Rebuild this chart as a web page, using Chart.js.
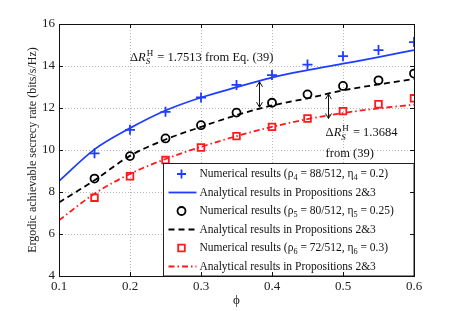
<!DOCTYPE html>
<html>
<head>
<meta charset="utf-8">
<script src="https://cdn.jsdelivr.net/npm/chart.js@4/dist/chart.umd.min.js"></script>
<style>
  html, body { margin: 0; padding: 0; background: #fff; }
</style>
</head>
<body>
<canvas id="myChart" width="457" height="311"></canvas>
<script>
// phi values
let phiNum = [0.15, 0.2, 0.25, 0.3, 0.35, 0.4, 0.45, 0.5, 0.55, 0.6];
let phiAna = [0.1, 0.15, 0.2, 0.25, 0.3, 0.35, 0.4, 0.45, 0.5, 0.55, 0.6];

// rates (bits/s/Hz)
let num4 = [9.84, 10.96, 11.82, 12.5, 13.1, 13.57, 14.07, 14.47, 14.76, 15.14];
let ana4 = [8.52, 10.03, 11.04, 11.88, 12.5, 12.99, 13.45, 13.8, 14.11, 14.42, 14.76];
let num5 = [8.64, 9.71, 10.55, 11.18, 11.78, 12.25, 12.65, 13.05, 13.32, 13.64];
let ana5 = [7.5, 8.56, 9.72, 10.5, 11.1, 11.66, 12.12, 12.46, 12.84, 13.12, 13.38];
let num6 = [7.73, 8.75, 9.52, 10.12, 10.66, 11.1, 11.5, 11.85, 12.18, 12.46];
let ana6 = [6.65, 7.92, 8.86, 9.57, 10.15, 10.66, 11.1, 11.47, 11.76, 11.98, 12.16];

let xTicks = [0.1, 0.2, 0.3, 0.4, 0.5, 0.6];
let yTicks = [4, 6, 8, 10, 12, 14, 16];

// legend text pieces, [text, isSubscript]
let legendLabels = [
  [["Numerical results (\u03c1", 0], ["4", 1], [" = 88/512, \u03b7", 0], ["4", 1], [" = 0.2)", 0]],
  [["Analytical results in Propositions 2&3", 0]],
  [["Numerical results (\u03c1", 0], ["5", 1], [" = 80/512, \u03b7", 0], ["5", 1], [" = 0.25)", 0]],
  [["Analytical results in Propositions 2&3", 0]],
  [["Numerical results (\u03c1", 0], ["6", 1], [" = 72/512, \u03b7", 0], ["6", 1], [" = 0.3)", 0]],
  [["Analytical results in Propositions 2&3", 0]]
];

const BLUE = "#1f3dff";
const RED = "#ff1a1a";
const FONT = "'Liberation Serif', 'Times New Roman', serif";

let pts = (xs, ys) => xs.map((v, i) => ({ x: v, y: ys[i] }));

let numSet = (label, data, color, style, r) => ({
  label: label,
  data: pts(phiNum, data),
  showLine: false,
  borderColor: color,
  backgroundColor: "transparent",
  pointStyle: style,
  pointRadius: r,
  pointBorderWidth: 1.8,
  pointHoverRadius: r
});

let anaSet = (label, data, color, dash) => ({
  label: label,
  data: pts(phiAna, data),
  showLine: true,
  borderColor: color,
  borderWidth: 1.8,
  borderDash: dash,
  pointRadius: 0,
  cubicInterpolationMode: "monotone",
  fill: false
});

function richText(ctx, parts, x, y, size) {
  parts.forEach(([t, sub]) => {
    ctx.font = (sub ? size * 0.72 : size) + "px " + FONT;
    ctx.fillText(t, x, sub ? y + size * 0.3 : y);
    x += ctx.measureText(t).width;
  });
}

function deltaText(ctx, x, y, rest, size) {
  ctx.font = size + "px " + FONT;
  ctx.fillText("\u0394", x, y);
  x += ctx.measureText("\u0394").width;
  ctx.font = "italic " + size + "px " + FONT;
  ctx.fillText("R", x, y);
  x += ctx.measureText("R").width + 1;
  let s = size * 0.72;
  ctx.font = s + "px " + FONT;
  ctx.fillText("H", x, y - size * 0.38);
  let w1 = ctx.measureText("H").width;
  ctx.font = "italic " + s + "px " + FONT;
  ctx.fillText("S", x - 1, y + size * 0.32);
  let w2 = ctx.measureText("S").width;
  x += Math.max(w1, w2) + 1;
  ctx.font = size + "px " + FONT;
  ctx.fillText(rest, x, y);
}

function arrow(ctx, px, y1, y2) {
  ctx.beginPath();
  ctx.moveTo(px, y1); ctx.lineTo(px, y2);
  ctx.moveTo(px - 3, y1 + 5); ctx.lineTo(px, y1); ctx.lineTo(px + 3, y1 + 5);
  ctx.moveTo(px - 3, y2 - 5); ctx.lineTo(px, y2); ctx.lineTo(px + 3, y2 - 5);
  ctx.stroke();
}

const paperLook = {
  id: "paperLook",
  beforeDatasetsDraw(chart) {
    const { ctx, chartArea: a, scales: { x, y } } = chart;
    ctx.save();
    ctx.strokeStyle = "#b8b8b8";
    ctx.lineWidth = 1;
    ctx.setLineDash([1, 2]);
    ctx.beginPath();
    xTicks.forEach(v => {
      let px = Math.round(x.getPixelForValue(v)) + 0.5;
      ctx.moveTo(px, a.top); ctx.lineTo(px, a.bottom);
    });
    yTicks.forEach(v => {
      let py = Math.round(y.getPixelForValue(v)) + 0.5;
      ctx.moveTo(a.left, py); ctx.lineTo(a.right, py);
    });
    ctx.stroke();
    ctx.restore();
  },
  afterDatasetsDraw(chart) {
    const { ctx, chartArea: a, scales: { x, y } } = chart;
    ctx.save();
    ctx.fillStyle = "#111";
    ctx.strokeStyle = "#111";
    ctx.lineWidth = 1;

    // annotations
    ctx.textBaseline = "middle";
    deltaText(ctx, x.getPixelForValue(0.2), y.getPixelForValue(14.38), " = 1.7513 from Eq. (39)", 12.5);
    deltaText(ctx, x.getPixelForValue(0.4755), y.getPixelForValue(10.8), " = 1.3684", 12.5);
    ctx.font = "12.5px " + FONT;
    ctx.fillText("from (39)", x.getPixelForValue(0.4755), y.getPixelForValue(9.8));
    arrow(ctx, Math.round(x.getPixelForValue(0.382)) + 0.5, y.getPixelForValue(13.25), y.getPixelForValue(12.04));
    arrow(ctx, Math.round(x.getPixelForValue(0.479)) + 0.5, y.getPixelForValue(12.66), y.getPixelForValue(11.5));

    // legend box
    let lx = 163.5, ly = 163.5, lw = a.right - lx, lh = a.bottom - ly;
    ctx.fillStyle = "#fff";
    ctx.fillRect(lx, ly, lw, lh);
    ctx.strokeStyle = "#222";
    ctx.strokeRect(lx, ly, lw, lh);
    chart.data.datasets.forEach((ds, i) => {
      let cy = ly + 10.5 + i * 18.5;
      ctx.strokeStyle = ds.borderColor;
      ctx.lineWidth = 1.8;
      if (ds.showLine) {
        ctx.setLineDash(ds.borderDash || []);
        ctx.beginPath();
        ctx.moveTo(lx + 5, cy); ctx.lineTo(lx + 33, cy);
        ctx.stroke();
        ctx.setLineDash([]);
      } else {
        let mx = lx + 18;
        ctx.beginPath();
        if (ds.pointStyle === "cross") {
          ctx.moveTo(mx - 4.5, cy); ctx.lineTo(mx + 4.5, cy);
          ctx.moveTo(mx, cy - 4.5); ctx.lineTo(mx, cy + 4.5);
        } else if (ds.pointStyle === "circle") {
          ctx.arc(mx, cy, 4, 0, Math.PI * 2);
        } else {
          ctx.rect(mx - 3.3, cy - 3.3, 6.6, 6.6);
        }
        ctx.stroke();
      }
      ctx.fillStyle = "#111";
      ctx.textBaseline = "middle";
      richText(ctx, legendLabels[i], lx + 36, cy, 11.5);
    });

    // axes box and inner ticks
    ctx.strokeStyle = "#111";
    ctx.lineWidth = 1;
    ctx.strokeRect(Math.round(a.left) + 0.5, Math.round(a.top) + 0.5,
      Math.round(a.right - a.left), Math.round(a.bottom - a.top));
    ctx.beginPath();
    xTicks.forEach(v => {
      let px = Math.round(x.getPixelForValue(v)) + 0.5;
      ctx.moveTo(px, a.bottom); ctx.lineTo(px, a.bottom - 4);
      ctx.moveTo(px, a.top); ctx.lineTo(px, a.top + 4);
    });
    yTicks.forEach(v => {
      let py = Math.round(y.getPixelForValue(v)) + 0.5;
      ctx.moveTo(a.left, py); ctx.lineTo(a.left + 4, py);
      ctx.moveTo(a.right, py); ctx.lineTo(a.right - 4, py);
    });
    ctx.stroke();
    ctx.restore();
  }
};

let myChart = document.getElementById("myChart").getContext("2d");

let rateChart = new Chart(myChart, {
  type: "scatter",
  data: {
    datasets: [
      numSet("Numerical 4", num4, BLUE, "cross", 5),
      anaSet("Analytical 4", ana4, BLUE, []),
      numSet("Numerical 5", num5, "#000", "circle", 4),
      anaSet("Analytical 5", ana5, "#000", [6, 4]),
      numSet("Numerical 6", num6, RED, "rect", 4.7),
      anaSet("Analytical 6", ana6, RED, [6, 3, 1.5, 3])
    ]
  },
  options: {
    responsive: false,
    animation: false,
    layout: { padding: { left: 0, top: 24, right: 43, bottom: 0 } },
    plugins: {
      legend: { display: false },
      tooltip: { enabled: false }
    },
    scales: {
      x: {
        type: "linear",
        min: 0.1,
        max: 0.6,
        afterFit: (s) => { s.height = 35; },
        afterBuildTicks: (s) => { s.ticks = xTicks.map(v => ({ value: v })); },
        grid: { display: false, drawTicks: false },
        border: { display: false },
        ticks: {
          padding: 3,
          color: "#222",
          font: { family: FONT, size: 13 },
          callback: (v) => v.toFixed(1)
        },
        title: {
          display: true,
          text: "\u03d5",
          color: "#222",
          font: { family: FONT, size: 13 },
          padding: { top: 0, bottom: 3 }
        }
      },
      y: {
        type: "linear",
        min: 4,
        max: 16,
        afterFit: (s) => { s.width = 59; },
        afterBuildTicks: (s) => { s.ticks = yTicks.map(v => ({ value: v })); },
        grid: { display: false, drawTicks: false },
        border: { display: false },
        ticks: {
          padding: 4,
          color: "#222",
          font: { family: FONT, size: 13 }
        },
        title: {
          display: true,
          text: "Ergodic achievable secrecy rate (bits/s/Hz)",
          color: "#222",
          font: { family: FONT, size: 12 },
          padding: { top: 26, bottom: 0 }
        }
      }
    }
  },
  plugins: [paperLook]
});
</script>
</body>
</html>
